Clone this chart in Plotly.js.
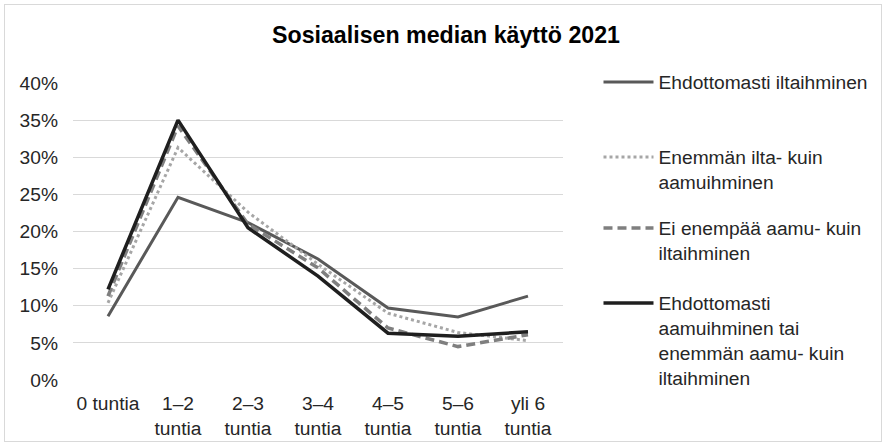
<!DOCTYPE html>
<html>
<head>
<meta charset="utf-8">
<script src="https://cdn.plot.ly/plotly-3.0.1.min.js"></script>
<style>
html,body{margin:0;padding:0;background:#fff;}
#chart{width:886px;height:446px;position:absolute;left:0;top:0;}
#frame{position:absolute;left:4px;top:4px;width:878px;height:438px;border:1px solid #d9d9d9;box-sizing:border-box;pointer-events:none;}
</style>
</head>
<body>
<div id="chart"></div>
<div id="frame"></div>
<script>
const categories = ["0 tuntia", "1–2<br>tuntia", "2–3<br>tuntia", "3–4<br>tuntia", "4–5<br>tuntia", "5–6<br>tuntia", "yli 6<br>tuntia"];
const seriesNames = [
  "Ehdottomasti iltaihminen",
  "Enemmän ilta- kuin<br>aamuihminen",
  "Ei enempää aamu- kuin<br>iltaihminen",
  "Ehdottomasti<br>aamuihminen tai<br>enemmän aamu- kuin<br>iltaihminen"
];
const iltaihminen = [8.6, 24.6, 21.2, 16.3, 9.7, 8.5, 11.3];
const enemmanIlta = [10.4, 31.3, 22.6, 15.6, 9.0, 6.4, 5.3];
const eiEnempaa = [11.3, 34.2, 21.0, 15.1, 7.0, 4.5, 6.1];
const aamuihminen = [12.2, 35.0, 20.5, 14.0, 6.3, 5.9, 6.5];
const yTicks = [0, 5, 10, 15, 20, 25, 30, 35, 40];

const FONT = '"Liberation Sans", Arial, sans-serif';
const FS = 19.2;
const pct = a => a.map(v => v / 100);

const traces = [
  {y: pct(iltaihminen), name: seriesNames[0], line: {color: '#595959', width: 3}, legend: 'legend'},
  {y: pct(enemmanIlta), name: seriesNames[1], line: {color: '#a6a6a6', width: 3, dash: 'dot'}, legend: 'legend2'},
  {y: pct(eiEnempaa), name: seriesNames[2], line: {color: '#7f7f7f', width: 3.5, dash: '9px,5px'}, legend: 'legend3'},
  {y: pct(aamuihminen), name: seriesNames[3], line: {color: '#1f1f1f', width: 3.5}, legend: 'legend4'}
].map(t => Object.assign({x: categories, type: 'scatter', mode: 'lines', hoverinfo: 'skip'}, t));

const plotL = 73, plotR = 570, plotT = 83, plotB = 380;
const W = 886, H = 446;
const px = x => (x - plotL) / (plotR - plotL);
const py = y => (plotB - y) / (plotB - plotT);

function leg(topPx) {
  return {x: px(606), xanchor: 'left', y: py(topPx), yanchor: 'top', valign: 'top',
    font: {family: FONT, size: FS, color: '#262626'}, bgcolor: 'rgba(0,0,0,0)',
    borderwidth: 0, itemwidth: 50, tracegroupgap: 0};
}

const layout = {
  width: W, height: H,
  margin: {l: plotL, r: W - plotR, t: plotT, b: H - plotB, pad: 0},
  paper_bgcolor: '#ffffff', plot_bgcolor: '#ffffff',
  font: {family: FONT, size: FS, color: '#262626'},
  title: {text: '<b>Sosiaalisen median käyttö 2021</b>', font: {family: FONT, size: 23.2, color: '#000'},
    x: 446 / W, xref: 'container', xanchor: 'center', y: 1 - 35 / H, yref: 'container', yanchor: 'middle'},
  xaxis: {type: 'category', range: [-0.5, 6.5], showgrid: false, zeroline: false, showline: false,
    ticks: '', tickfont: {family: FONT, size: FS, color: '#262626'}, ticklabelstandoff: 10, fixedrange: true},
  yaxis: {range: [0, 0.40], tickvals: yTicks.map(v => v / 100), ticktext: yTicks.map(v => v + '%'),
    showgrid: true, gridcolor: '#d9d9d9', gridwidth: 1, zeroline: false, showline: false, ticks: '',
    tickfont: {family: FONT, size: FS, color: '#262626'}, ticklabelstandoff: 14, fixedrange: true},
  showlegend: true,
  legend: leg(63),
  legend2: leg(138),
  legend3: leg(209),
  legend4: leg(284)
};

Plotly.newPlot('chart', traces, layout, {displayModeBar: false, staticPlot: true});
</script>
</body>
</html>
